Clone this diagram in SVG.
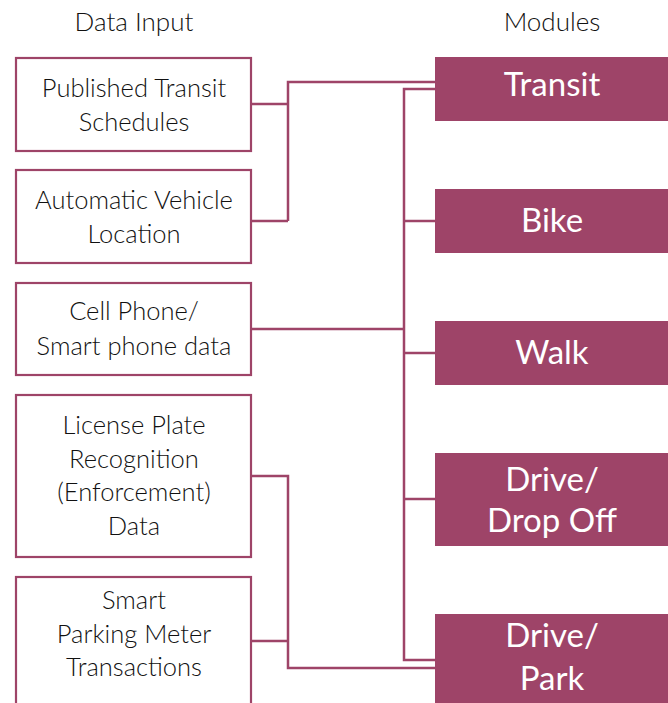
<svg xmlns="http://www.w3.org/2000/svg" width="668" height="703" viewBox="0 0 668 703">
<style>
.in{fill:#fff;stroke:#9e4468;stroke-width:2.2}
.mod{fill:#9e4468}
.t{font-family:Lato,"Open Sans",sans-serif;font-size:25.5px;fill:#111;text-anchor:middle;font-weight:300}
.m{font-family:Lato,"Open Sans",sans-serif;font-size:33px;fill:#fff;text-anchor:middle}
.h{font-family:Lato,"Open Sans",sans-serif;font-size:26px;fill:#111;text-anchor:middle;font-weight:300}
.c{fill:none;stroke:#9e4468;stroke-width:2.5}
</style>
<rect width="668" height="703" fill="#fff"/>
<text class="h" x="134" y="31">Data Input</text>
<text class="h" x="552" y="31">Modules</text>
<g id="connectors">
<polyline class="c" points="251,104 288,104"/>
<polyline class="c" points="251,221 288,221"/>
<polyline class="c" points="288,221 288,82 435,82"/>
<polyline class="c" points="251,329 404,329"/>
<polyline class="c" points="435,89 404,89 404,660 435,660"/>
<polyline class="c" points="404,221 435,221"/>
<polyline class="c" points="404,353 435,353"/>
<polyline class="c" points="404,499 435,499"/>
<polyline class="c" points="251,476 288,476 288,668 435,668"/>
<polyline class="c" points="251,641 288,641"/>
</g>
<g id="in1"><rect class="in" x="16" y="58" width="235" height="93"/><text class="t" x="134" y="97">Published Transit</text><text class="t" x="134" y="131">Schedules</text></g>
<g id="in2"><rect class="in" x="16" y="170" width="235" height="93"/><text class="t" x="134" y="209">Automatic Vehicle</text><text class="t" x="134" y="243">Location</text></g>
<g id="in3"><rect class="in" x="16" y="283" width="235" height="92"/><text class="t" x="134" y="320">Cell Phone/</text><text class="t" x="134" y="355">Smart phone data</text></g>
<g id="in4"><rect class="in" x="16" y="395" width="235" height="162"/><text class="t" x="134" y="434">License Plate</text><text class="t" x="134" y="468">Recognition</text><text class="t" x="134" y="501">(Enforcement)</text><text class="t" x="134" y="535">Data</text></g>
<g id="in5"><rect class="in" x="16" y="577" width="235" height="140"/><text class="t" x="134" y="609">Smart</text><text class="t" x="134" y="643">Parking Meter</text><text class="t" x="134" y="676">Transactions</text></g>
<g id="transit"><rect class="mod" x="435" y="57" width="233" height="64"/><text class="m" x="552" y="96">Transit</text></g>
<g id="bike"><rect class="mod" x="435" y="189" width="233" height="64"/><text class="m" x="552" y="232">Bike</text></g>
<g id="walk"><rect class="mod" x="435" y="321" width="233" height="64"/><text class="m" x="552" y="364">Walk</text></g>
<g id="dropoff"><rect class="mod" x="435" y="453" width="233" height="93"/><text class="m" x="552" y="491">Drive/</text><text class="m" x="552" y="532">Drop Off</text></g>
<g id="park"><rect class="mod" x="435" y="614" width="233" height="89"/><text class="m" x="552" y="647">Drive/</text><text class="m" x="552" y="690">Park</text></g>
</svg>
